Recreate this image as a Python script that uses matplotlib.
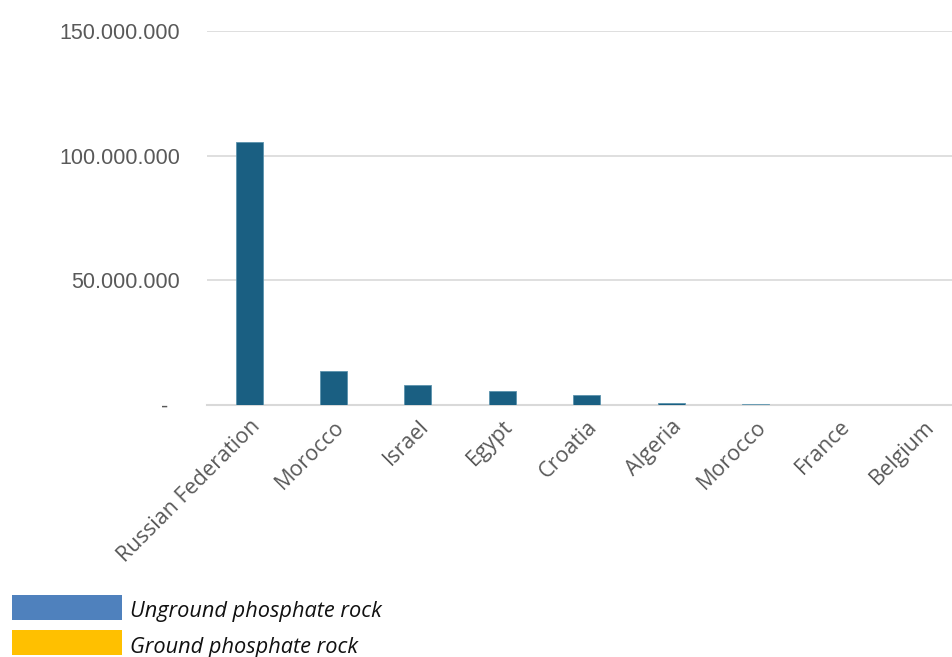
import matplotlib
matplotlib.use("Agg")
import matplotlib.pyplot as plt
from matplotlib.patches import Rectangle

categories = ["Russian Federation", "Morocco", "Israel", "Egypt", "Croatia",
              "Algeria", "Morocco", "France", "Belgium"]
values = [105500000, 13600000, 8000000, 5600000, 4000000,
          900000, 400000, 50000, 30000]
bar_colors = ["#1a5f82"] * 6 + ["#a9cbd8", "#1a5f82", "#1a5f82"]
yticks = [0, 50000000, 100000000, 150000000]
ytick_labels = ["-  ", "50.000.000", "100.000.000", "150.000.000"]
legend_labels = ["Unground phosphate rock", "Ground phosphate rock"]
legend_colors = ["#4f81bd", "#ffc000"]

W, H = 953, 657
fig = plt.figure(figsize=(W / 100, H / 100), dpi=100)
ax = fig.add_axes([207 / W, 1 - 405 / H, 1 - 207 / W, (405 - 31) / H])

x = list(range(len(categories)))
ax.bar(x, values, width=0.32, color=bar_colors, edgecolor="#5b93ad",
       linewidth=0.6, zorder=3)
ax.set_xlim(-0.5, 8.34)
ax.set_ylim(0, 150000000)
ax.set_yticks(yticks)
ax.set_yticklabels(ytick_labels, fontsize=15.5, color="#595959",
                   family="Liberation Sans")
ax.set_xticks(x)
ax.set_xticklabels(categories, rotation=45, ha="right", va="top",
                   rotation_mode="anchor", fontsize=15.5, color="#595959",
                   family="Open Sans")
ax.tick_params(axis="both", length=0)
ax.tick_params(axis="y", pad=19.5)
ax.tick_params(axis="x", pad=8)
ax.grid(axis="y", color="#d9d9d9", linewidth=1.2, zorder=0)
for s in ["top", "right", "left"]:
    ax.spines[s].set_visible(False)
ax.spines["bottom"].set_color("#d9d9d9")
ax.spines["bottom"].set_linewidth(1.5)

# legend drawn beneath chart
boxes = [(12, 595), (12, 630)]
for (bx, by), lab, col in zip(boxes, legend_labels, legend_colors):
    fig.patches.append(Rectangle((bx / W, 1 - (by + 25) / H), 110 / W, 25 / H,
                                 transform=fig.transFigure, facecolor=col,
                                 edgecolor="none"))
    fig.text(130 / W, 1 - (by + 17) / H, lab, fontsize=15.7, style="italic",
             family="Open Sans", color="#111111", va="center", ha="left")

fig.savefig("out.png", dpi=100)
